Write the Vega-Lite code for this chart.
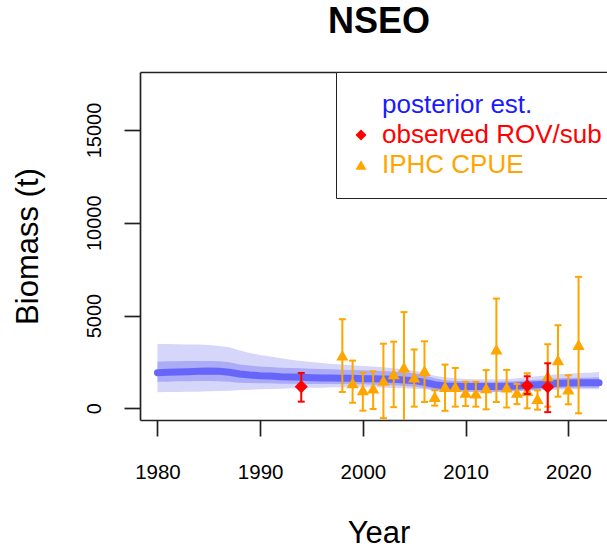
{
  "$schema": "https://vega.github.io/schema/vega-lite/v6.json",
  "autosize": {"type": "none"},
  "width": 467,
  "height": 348,
  "padding": {"left": 140, "top": 72, "right": 0, "bottom": 128},
  "background": "white",
  "config": {"view": {"stroke": null}, "font": "Liberation Sans"},
  "resolve": {"axis": {"x": "independent", "y": "independent"}},
  "datasets": {
    "post": [
      {"year": 1980, "est": 1922, "lo50": 1437, "hi50": 2515, "lo95": 861, "hi95": 3468},
      {"year": 1981, "est": 1940, "lo50": 1437, "hi50": 2533, "lo95": 879, "hi95": 3468},
      {"year": 1982, "est": 1958, "lo50": 1455, "hi50": 2533, "lo95": 879, "hi95": 3450},
      {"year": 1983, "est": 1976, "lo50": 1455, "hi50": 2551, "lo95": 897, "hi95": 3432},
      {"year": 1984, "est": 1994, "lo50": 1473, "hi50": 2551, "lo95": 897, "hi95": 3432},
      {"year": 1985, "est": 2012, "lo50": 1473, "hi50": 2551, "lo95": 915, "hi95": 3414},
      {"year": 1986, "est": 1994, "lo50": 1455, "hi50": 2533, "lo95": 933, "hi95": 3360},
      {"year": 1987, "est": 1940, "lo50": 1437, "hi50": 2479, "lo95": 951, "hi95": 3289},
      {"year": 1988, "est": 1850, "lo50": 1383, "hi50": 2354, "lo95": 987, "hi95": 3109},
      {"year": 1989, "est": 1796, "lo50": 1365, "hi50": 2300, "lo95": 1005, "hi95": 2983},
      {"year": 1990, "est": 1760, "lo50": 1347, "hi50": 2246, "lo95": 1023, "hi95": 2875},
      {"year": 1991, "est": 1742, "lo50": 1347, "hi50": 2228, "lo95": 1041, "hi95": 2785},
      {"year": 1992, "est": 1706, "lo50": 1329, "hi50": 2192, "lo95": 1059, "hi95": 2695},
      {"year": 1993, "est": 1688, "lo50": 1329, "hi50": 2174, "lo95": 1077, "hi95": 2623},
      {"year": 1994, "est": 1670, "lo50": 1311, "hi50": 2156, "lo95": 1095, "hi95": 2551},
      {"year": 1995, "est": 1652, "lo50": 1311, "hi50": 2138, "lo95": 1113, "hi95": 2497},
      {"year": 1996, "est": 1634, "lo50": 1311, "hi50": 2120, "lo95": 1113, "hi95": 2443},
      {"year": 1997, "est": 1634, "lo50": 1311, "hi50": 2102, "lo95": 1131, "hi95": 2390},
      {"year": 1998, "est": 1616, "lo50": 1311, "hi50": 2084, "lo95": 1131, "hi95": 2354},
      {"year": 1999, "est": 1616, "lo50": 1293, "hi50": 2066, "lo95": 1131, "hi95": 2318},
      {"year": 2000, "est": 1598, "lo50": 1293, "hi50": 2048, "lo95": 1131, "hi95": 2282},
      {"year": 2001, "est": 1598, "lo50": 1275, "hi50": 2030, "lo95": 1131, "hi95": 2246},
      {"year": 2002, "est": 1580, "lo50": 1257, "hi50": 2012, "lo95": 1113, "hi95": 2210},
      {"year": 2003, "est": 1562, "lo50": 1239, "hi50": 1976, "lo95": 1095, "hi95": 2156},
      {"year": 2004, "est": 1527, "lo50": 1203, "hi50": 1940, "lo95": 1077, "hi95": 2102},
      {"year": 2005, "est": 1491, "lo50": 1167, "hi50": 1886, "lo95": 1059, "hi95": 2030},
      {"year": 2006, "est": 1401, "lo50": 1095, "hi50": 1778, "lo95": 1023, "hi95": 1922},
      {"year": 2007, "est": 1275, "lo50": 987, "hi50": 1616, "lo95": 951, "hi95": 1760},
      {"year": 2008, "est": 1203, "lo50": 933, "hi50": 1509, "lo95": 915, "hi95": 1670},
      {"year": 2009, "est": 1185, "lo50": 915, "hi50": 1473, "lo95": 897, "hi95": 1616},
      {"year": 2010, "est": 1175, "lo50": 897, "hi50": 1455, "lo95": 897, "hi95": 1580},
      {"year": 2011, "est": 1175, "lo50": 897, "hi50": 1437, "lo95": 879, "hi95": 1562},
      {"year": 2012, "est": 1175, "lo50": 897, "hi50": 1437, "lo95": 879, "hi95": 1562},
      {"year": 2013, "est": 1175, "lo50": 897, "hi50": 1437, "lo95": 879, "hi95": 1562},
      {"year": 2014, "est": 1185, "lo50": 915, "hi50": 1455, "lo95": 897, "hi95": 1580},
      {"year": 2015, "est": 1203, "lo50": 933, "hi50": 1473, "lo95": 915, "hi95": 1616},
      {"year": 2016, "est": 1239, "lo50": 969, "hi50": 1509, "lo95": 933, "hi95": 1670},
      {"year": 2017, "est": 1275, "lo50": 1005, "hi50": 1544, "lo95": 969, "hi95": 1724},
      {"year": 2018, "est": 1311, "lo50": 1041, "hi50": 1580, "lo95": 987, "hi95": 1778},
      {"year": 2019, "est": 1347, "lo50": 1077, "hi50": 1616, "lo95": 1005, "hi95": 1832},
      {"year": 2020, "est": 1365, "lo50": 1095, "hi50": 1634, "lo95": 1023, "hi95": 1868},
      {"year": 2021, "est": 1383, "lo50": 1113, "hi50": 1652, "lo95": 1023, "hi95": 1904},
      {"year": 2022, "est": 1383, "lo50": 1113, "hi50": 1652, "lo95": 1023, "hi95": 1922},
      {"year": 2023, "est": 1383, "lo50": 1113, "hi50": 1670, "lo95": 1023, "hi95": 1958}
    ],
    "iphc": [
      {"year": 1998, "value": 2860, "lo": 880, "hi": 4800, "series": "IPHC CPUE"},
      {"year": 1999, "value": 1370, "lo": 300, "hi": 2570, "series": "IPHC CPUE"},
      {"year": 2000, "value": 990, "lo": -128, "hi": 1922, "series": "IPHC CPUE"},
      {"year": 2001, "value": 1080, "lo": -38, "hi": 1990, "series": "IPHC CPUE"},
      {"year": 2002, "value": 1500, "lo": -530, "hi": 3480, "series": "IPHC CPUE"},
      {"year": 2003, "value": 1850, "lo": 60, "hi": 3590, "series": "IPHC CPUE"},
      {"year": 2004, "value": 2210, "lo": -900, "hi": 5185, "series": "IPHC CPUE"},
      {"year": 2005, "value": 1670, "lo": 88, "hi": 3170, "series": "IPHC CPUE"},
      {"year": 2006, "value": 2030, "lo": 340, "hi": 3612, "series": "IPHC CPUE"},
      {"year": 2007, "value": 628, "lo": 142, "hi": 970, "series": "IPHC CPUE"},
      {"year": 2008, "value": 1167, "lo": -136, "hi": 2355, "series": "IPHC CPUE"},
      {"year": 2009, "value": 1167, "lo": 88, "hi": 2175, "series": "IPHC CPUE"},
      {"year": 2010, "value": 850, "lo": 124, "hi": 1428, "series": "IPHC CPUE"},
      {"year": 2011, "value": 807, "lo": 88, "hi": 1428, "series": "IPHC CPUE"},
      {"year": 2012, "value": 1095, "lo": -56, "hi": 2058, "series": "IPHC CPUE"},
      {"year": 2013, "value": 3182, "lo": 340, "hi": 5913, "series": "IPHC CPUE"},
      {"year": 2014, "value": 1131, "lo": 43, "hi": 2068, "series": "IPHC CPUE"},
      {"year": 2015, "value": 852, "lo": 223, "hi": 1311, "series": "IPHC CPUE"},
      {"year": 2016, "value": 951, "lo": 0, "hi": 1888, "series": "IPHC CPUE"},
      {"year": 2017, "value": 520, "lo": -74, "hi": 970, "series": "IPHC CPUE"},
      {"year": 2018, "value": 1744, "lo": 88, "hi": 3451, "series": "IPHC CPUE"},
      {"year": 2019, "value": 2607, "lo": 627, "hi": 4477, "series": "IPHC CPUE"},
      {"year": 2020, "value": 1032, "lo": 214, "hi": 1780, "series": "IPHC CPUE"},
      {"year": 2021, "value": 3430, "lo": -271, "hi": 7084, "series": "IPHC CPUE"}
    ],
    "rov": [
      {"year": 1994, "value": 1167, "lo": 358, "hi": 1904, "series": "observed ROV/sub"},
      {"year": 2016, "value": 1220, "lo": 771, "hi": 1725, "series": "observed ROV/sub"},
      {"year": 2018, "value": 1150, "lo": -208, "hi": 2427, "series": "observed ROV/sub"}
    ]
  },
  "layer": [
    {
      "data": {"name": "post"},
      "mark": {"type": "area", "color": "#d6d6fb", "opacity": 1, "clip": true},
      "encoding": {
        "x": {"field": "year", "type": "quantitative",
          "scale": {"domain": [1978.3, 2023.77], "nice": false, "zero": false},
          "axis": {"orient": "bottom", "values": [1980, 1990, 2000, 2010, 2020], "format": "d", "grid": false,
            "title": "Year", "titleFont": "Liberation Sans", "titleFontSize": 31, "titleFontWeight": "normal", "titleColor": "black",
            "titleBaseline": "alphabetic", "titleY": 122, "titleX": 238.5, "titleAlign": "center",
            "labelFont": "Liberation Sans", "labelFontSize": 20.5, "labelColor": "black", "labelBaseline": "alphabetic", "labelPadding": 42,
            "labelFlush": false, "labelOverlap": false, "labelBound": false,
            "tickSize": 16, "tickWidth": 1.7, "tickColor": "#222", "domainColor": "#222", "domainWidth": 1.7}},
        "y": {"field": "lo95", "type": "quantitative",
          "scale": {"domain": [-631, 18126], "nice": false, "zero": false},
          "axis": {"orient": "left", "values": [0, 5000, 10000, 15000], "format": "d", "grid": false,
            "title": "Biomass (t)", "titleFont": "Liberation Sans", "titleFontSize": 31, "titleFontWeight": "normal", "titleColor": "black",
            "titleAngle": -90, "titleBaseline": "alphabetic", "titleAlign": "center", "titleX": -103, "titleY": 174,
            "labelFont": "Liberation Sans", "labelFontSize": 20, "labelColor": "black", "labelAngle": -90, "labelAlign": "center", "labelBaseline": "alphabetic", "labelPadding": 24,
            "labelFlush": false, "labelOverlap": false, "labelBound": false,
            "tickSize": 16, "tickWidth": 1.7, "tickColor": "#222", "domainColor": "#222", "domainWidth": 1.7}},
        "y2": {"field": "hi95"}
      }
    },
    {
      "data": {"name": "post"},
      "mark": {"type": "area", "color": "#ababf8", "opacity": 1, "clip": true},
      "encoding": {
        "x": {"field": "year", "type": "quantitative", "axis": null},
        "y": {"field": "lo50", "type": "quantitative", "axis": null},
        "y2": {"field": "hi50"}
      }
    },
    {
      "data": {"name": "post"},
      "mark": {"type": "line", "color": "#6666fa", "strokeWidth": 7, "strokeCap": "round", "strokeJoin": "round", "clip": true},
      "encoding": {
        "x": {"field": "year", "type": "quantitative",
          "axis": {"orient": "top", "labels": false, "ticks": false, "grid": false, "domainColor": "#222", "domainWidth": 1.7,
            "title": "NSEO", "titleFont": "Liberation Sans", "titleFontSize": 36, "titleFontWeight": "bold", "titleColor": "black",
            "titleBaseline": "alphabetic", "titleAlign": "center", "titleX": 238.5, "titleY": -40}},
        "y": {"field": "est", "type": "quantitative", "axis": null}
      }
    },
    {
      "data": {"name": "iphc"},
      "mark": {"type": "rule", "color": "#ffa500", "strokeWidth": 2, "clip": true},
      "encoding": {
        "x": {"field": "year", "type": "quantitative", "axis": null},
        "y": {"field": "lo", "type": "quantitative", "axis": null},
        "y2": {"field": "hi"}
      }
    },
    {
      "data": {"name": "iphc"},
      "mark": {"type": "tick", "orient": "horizontal", "size": 7, "thickness": 2, "color": "#ffa500", "opacity": 1, "clip": true},
      "encoding": {
        "x": {"field": "year", "type": "quantitative", "axis": null},
        "y": {"field": "hi", "type": "quantitative", "axis": null}
      }
    },
    {
      "data": {"name": "iphc"},
      "mark": {"type": "tick", "orient": "horizontal", "size": 7, "thickness": 2, "color": "#ffa500", "opacity": 1, "clip": true},
      "encoding": {
        "x": {"field": "year", "type": "quantitative", "axis": null},
        "y": {"field": "lo", "type": "quantitative", "axis": null}
      }
    },
    {
      "data": {"name": "iphc"},
      "mark": {"type": "point", "filled": true, "size": 150, "opacity": 1, "strokeWidth": 0, "clip": true},
      "encoding": {
        "x": {"field": "year", "type": "quantitative", "axis": null},
        "y": {"field": "value", "type": "quantitative", "axis": null},
        "color": {"field": "series", "type": "nominal",
          "scale": {"domain": ["posterior est.", "observed ROV/sub", "IPHC CPUE"], "range": ["#6464fa", "#ff0000", "#ffa500"]},
          "legend": {"title": null, "orient": "none", "legendX": 196, "legendY": 0, "padding": 20, "rowPadding": 4,
            "labelFont": "Liberation Sans", "labelFontSize": 26, "labelOffset": 8, "symbolOffset": -8, "labelLimit": 600, "symbolSize": 120, "symbolStrokeWidth": 0,
            "labelColor": {"expr": "datum.label === 'posterior est.' ? '#1a1aff' : datum.label === 'observed ROV/sub' ? '#ff0000' : '#ffa500'"},
            "strokeColor": "#222", "fillColor": "white", "cornerRadius": 0,
            "encode": {"legend": {"strokeWidth": {"value": 1.7}}}}},
        "shape": {"field": "series", "type": "nominal",
          "scale": {"domain": ["posterior est.", "observed ROV/sub", "IPHC CPUE"], "range": ["M0,0L0,0", "diamond", "triangle-up"]},
          "legend": {"title": null, "orient": "none", "legendX": 196, "legendY": 0, "padding": 20, "rowPadding": 4,
            "labelFont": "Liberation Sans", "labelFontSize": 26, "labelOffset": 8, "symbolOffset": -8, "labelLimit": 600, "symbolSize": 120, "symbolStrokeWidth": 0,
            "labelColor": {"expr": "datum.label === 'posterior est.' ? '#1a1aff' : datum.label === 'observed ROV/sub' ? '#ff0000' : '#ffa500'"},
            "strokeColor": "#222", "fillColor": "white", "cornerRadius": 0,
            "encode": {"legend": {"strokeWidth": {"value": 1.7}}}}}
      }
    },
    {
      "data": {"name": "rov"},
      "mark": {"type": "rule", "color": "#ff0000", "strokeWidth": 2, "clip": true},
      "encoding": {
        "x": {"field": "year", "type": "quantitative", "axis": null},
        "y": {"field": "lo", "type": "quantitative", "axis": null},
        "y2": {"field": "hi"}
      }
    },
    {
      "data": {"name": "rov"},
      "mark": {"type": "tick", "orient": "horizontal", "size": 7, "thickness": 2, "color": "#ff0000", "opacity": 1, "clip": true},
      "encoding": {
        "x": {"field": "year", "type": "quantitative", "axis": null},
        "y": {"field": "hi", "type": "quantitative", "axis": null}
      }
    },
    {
      "data": {"name": "rov"},
      "mark": {"type": "tick", "orient": "horizontal", "size": 7, "thickness": 2, "color": "#ff0000", "opacity": 1, "clip": true},
      "encoding": {
        "x": {"field": "year", "type": "quantitative", "axis": null},
        "y": {"field": "lo", "type": "quantitative", "axis": null}
      }
    },
    {
      "data": {"name": "rov"},
      "mark": {"type": "point", "filled": true, "size": 170, "opacity": 1, "strokeWidth": 0, "clip": true},
      "encoding": {
        "x": {"field": "year", "type": "quantitative", "axis": null},
        "y": {"field": "value", "type": "quantitative", "axis": null},
        "color": {"field": "series", "type": "nominal",
          "scale": {"domain": ["posterior est.", "observed ROV/sub", "IPHC CPUE"], "range": ["#6464fa", "#ff0000", "#ffa500"]}},
        "shape": {"field": "series", "type": "nominal",
          "scale": {"domain": ["posterior est.", "observed ROV/sub", "IPHC CPUE"], "range": ["M0,0L0,0", "diamond", "triangle-up"]}}
      }
    }
  ]
}
